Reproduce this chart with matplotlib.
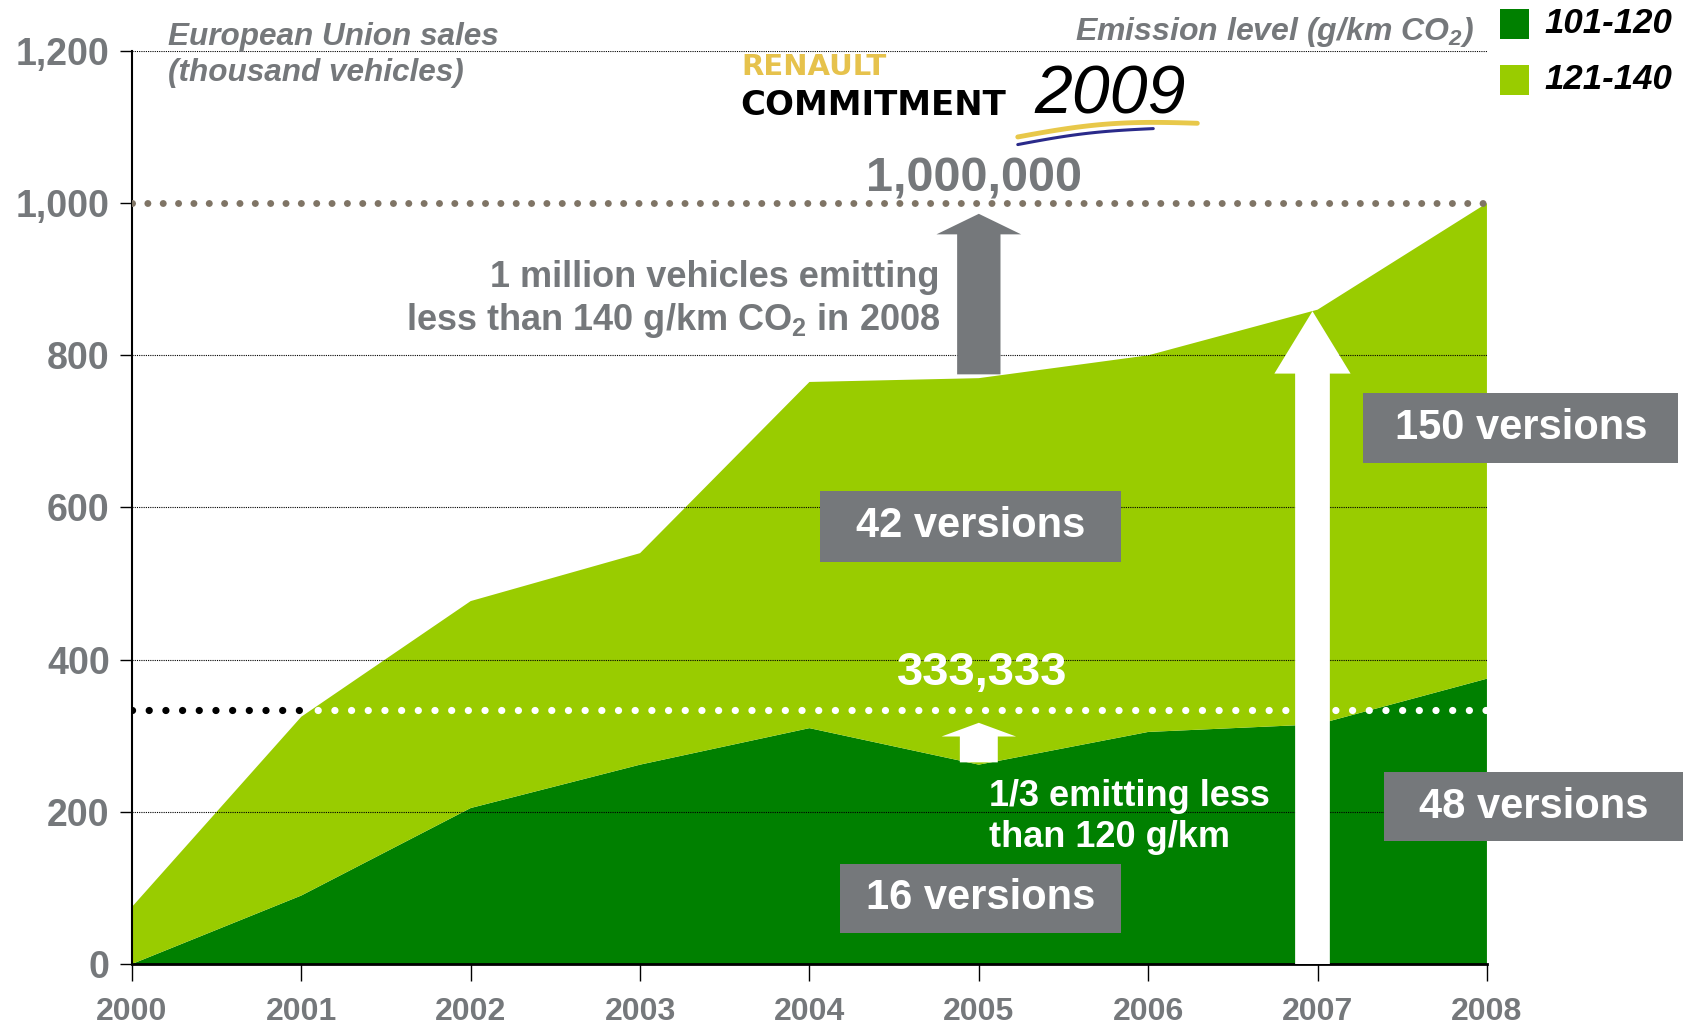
import matplotlib
matplotlib.use("Agg")
import matplotlib.pyplot as plt
import numpy as np
from matplotlib.patches import Rectangle

years = [2000, 2001, 2002, 2003, 2004, 2005, 2006, 2007, 2008]
# EU sales in thousand vehicles, by emission band (g/km CO2)
sales_101_120 = [0, 90, 205, 262, 310, 262, 305, 315, 375]
sales_121_140 = [75, 235, 272, 278, 455, 508, 495, 545, 625]
band_labels = ["101-120", "121-140"]
y_ticks = [0, 200, 400, 600, 800, 1000, 1200]

target_total = 1000          # 1,000,000 vehicles under 140 g/km
target_low = 1000 / 3        # 333,333 vehicles under 120 g/km

DARK = "#008000"
LIGHT = "#99cc00"
GREY = "#75787b"
DOTS = "#7f7465"

plt.rcParams['font.family'] = ['Liberation Sans', 'DejaVu Sans']
plt.rcParams['font.weight'] = 'bold'


def add_box(ax, x0, x1, y0, y1, label):
    """Grey label box with white text, in data coords."""
    ax.add_patch(Rectangle((x0, y0), x1 - x0, y1 - y0, facecolor=GREY,
                           edgecolor='none', clip_on=False, zorder=6))
    ax.text((x0 + x1) / 2, (y0 + y1) / 2, label, color='white', fontsize=30,
            ha='center', va='center', zorder=7, clip_on=False)


fig = plt.figure(figsize=(16.98, 10.24), dpi=100)
ax = fig.add_axes([0.0777, 0.0586, 0.798, 0.8916])

ax.stackplot(years, sales_101_120, sales_121_140, colors=[DARK, LIGHT], zorder=1)
ax.set_xlim(2000, 2008)
ax.set_ylim(0, 1200)

# thin dotted gridlines drawn over the areas
for v in y_ticks[1:]:
    if v != target_total:
        ax.axhline(v, color='black', lw=0.8, ls=(0, (1, 1)), zorder=2)

# target lines
ax.plot([2000, 2008], [target_total, target_total], color=DOTS, lw=5,
        ls=(0, (0.01, 2.2)), dash_capstyle='round', zorder=3)
ax.plot([2001, 2008], [target_low, target_low], color='white', lw=5.2,
        ls=(0, (0.01, 2.3)), dash_capstyle='round', zorder=3)
ax.plot([2000, 2001], [target_low, target_low], color='black', lw=5.2,
        ls=(0, (0.01, 2.3)), dash_capstyle='round', zorder=3)

# arrows
ax.arrow(2005, 775, 0, 211, width=0.256, head_width=0.5, head_length=27,
         length_includes_head=True, color=GREY, lw=0, zorder=4)
ax.arrow(2006.97, 0, 0, 858, width=0.205, head_width=0.45, head_length=82,
         length_includes_head=True, color='white', lw=0, zorder=4)
ax.arrow(2005, 265, 0, 52, width=0.224, head_width=0.44, head_length=18,
         length_includes_head=True, color='white', lw=0, zorder=4)

# version boxes
add_box(ax, 2004.06, 2005.84, 529, 622, "42 versions")
add_box(ax, 2004.18, 2005.84, 41, 132, "16 versions")
add_box(ax, 2007.27, 2009.13, 659, 750, "150 versions")
add_box(ax, 2007.39, 2009.16, 161, 252, "48 versions")

# annotations
ax.text(2004.97, 1032, "1,000,000", color=GREY, fontsize=35,
        ha='center', va='center', zorder=5)
ax.text(2004.77, 873, "1 million vehicles emitting\n"
        r"less than 140 g/km CO$\mathregular{_2}$ in 2008",
        color=GREY, fontsize=26, ha='right', va='center',
        linespacing=1.22, zorder=5)
ax.text(2005.02, 383, "333,333", color='white', fontsize=34,
        ha='center', va='center', zorder=5)
ax.text(2005.06, 193, "1/3 emitting less\nthan 120 g/km", color='white',
        fontsize=26, ha='left', va='center', linespacing=1.22, zorder=5)

# headers
ax.text(2000.21, 1195, "European Union sales\n(thousand vehicles)", color=GREY,
        fontsize=22.7, style='italic', ha='left', va='center', linespacing=1.25,
        clip_on=False)
ax.text(2007.92, 1225, r"Emission level (g/km CO$\mathregular{_2}$)", color=GREY,
        fontsize=23, style='italic', ha='right', va='center', clip_on=False)

# legend squares
for (y0, color, label) in [(1216, DARK, band_labels[0]), (1142, LIGHT, band_labels[1])]:
    ax.add_patch(Rectangle((2008.08, y0), 0.17, 39, facecolor=color,
                           edgecolor='none', clip_on=False))
    ax.text(2008.34, y0 + 20, label, color='black', fontsize=25, style='italic',
            ha='left', va='center', clip_on=False)

# Renault commitment logo
ax.text(2003.60, 1179, "RENAULT", color="#e2b82c", fontsize=21,
        family='DejaVu Sans', ha='left', va='center', alpha=0.85, clip_on=False)
ax.text(2003.59, 1128, "COMMITMENT", color='black', fontsize=24.5,
        family='DejaVu Sans', ha='left', va='center', clip_on=False)
ax.text(2005.33, 1142, "2009", color='black', fontsize=49, style='italic',
        weight='normal', ha='left', va='center', clip_on=False)
t = np.linspace(0, 1, 50)
ax.plot(2005.23 + 1.06 * t, 1087 + 18 * t + 8 * np.sin(np.pi * t),
        color="#e8c84a", lw=3.5, solid_capstyle='round', clip_on=False)
ax.plot(2005.23 + 0.8 * t, 1077 + 21 * t + 4 * np.sin(np.pi * t),
        color="#2a2a8a", lw=2.2, solid_capstyle='round', clip_on=False)

# axes styling
ax.set_yticks(y_ticks)
ax.set_yticklabels([f"{v:,}" for v in y_ticks])
ax.set_xticks(years)
ax.set_xticklabels([str(y) for y in years])
ax.tick_params(axis='y', direction='out', length=9, width=1, pad=7,
               labelsize=27, labelcolor=GREY)
ax.tick_params(axis='x', direction='out', length=12, width=1, pad=12,
               labelsize=23, labelcolor=GREY)
for s in ['top', 'right']:
    ax.spines[s].set_visible(False)
ax.spines['left'].set_linewidth(1.5)
ax.spines['bottom'].set_linewidth(2)

fig.savefig("out.png", dpi=100)
